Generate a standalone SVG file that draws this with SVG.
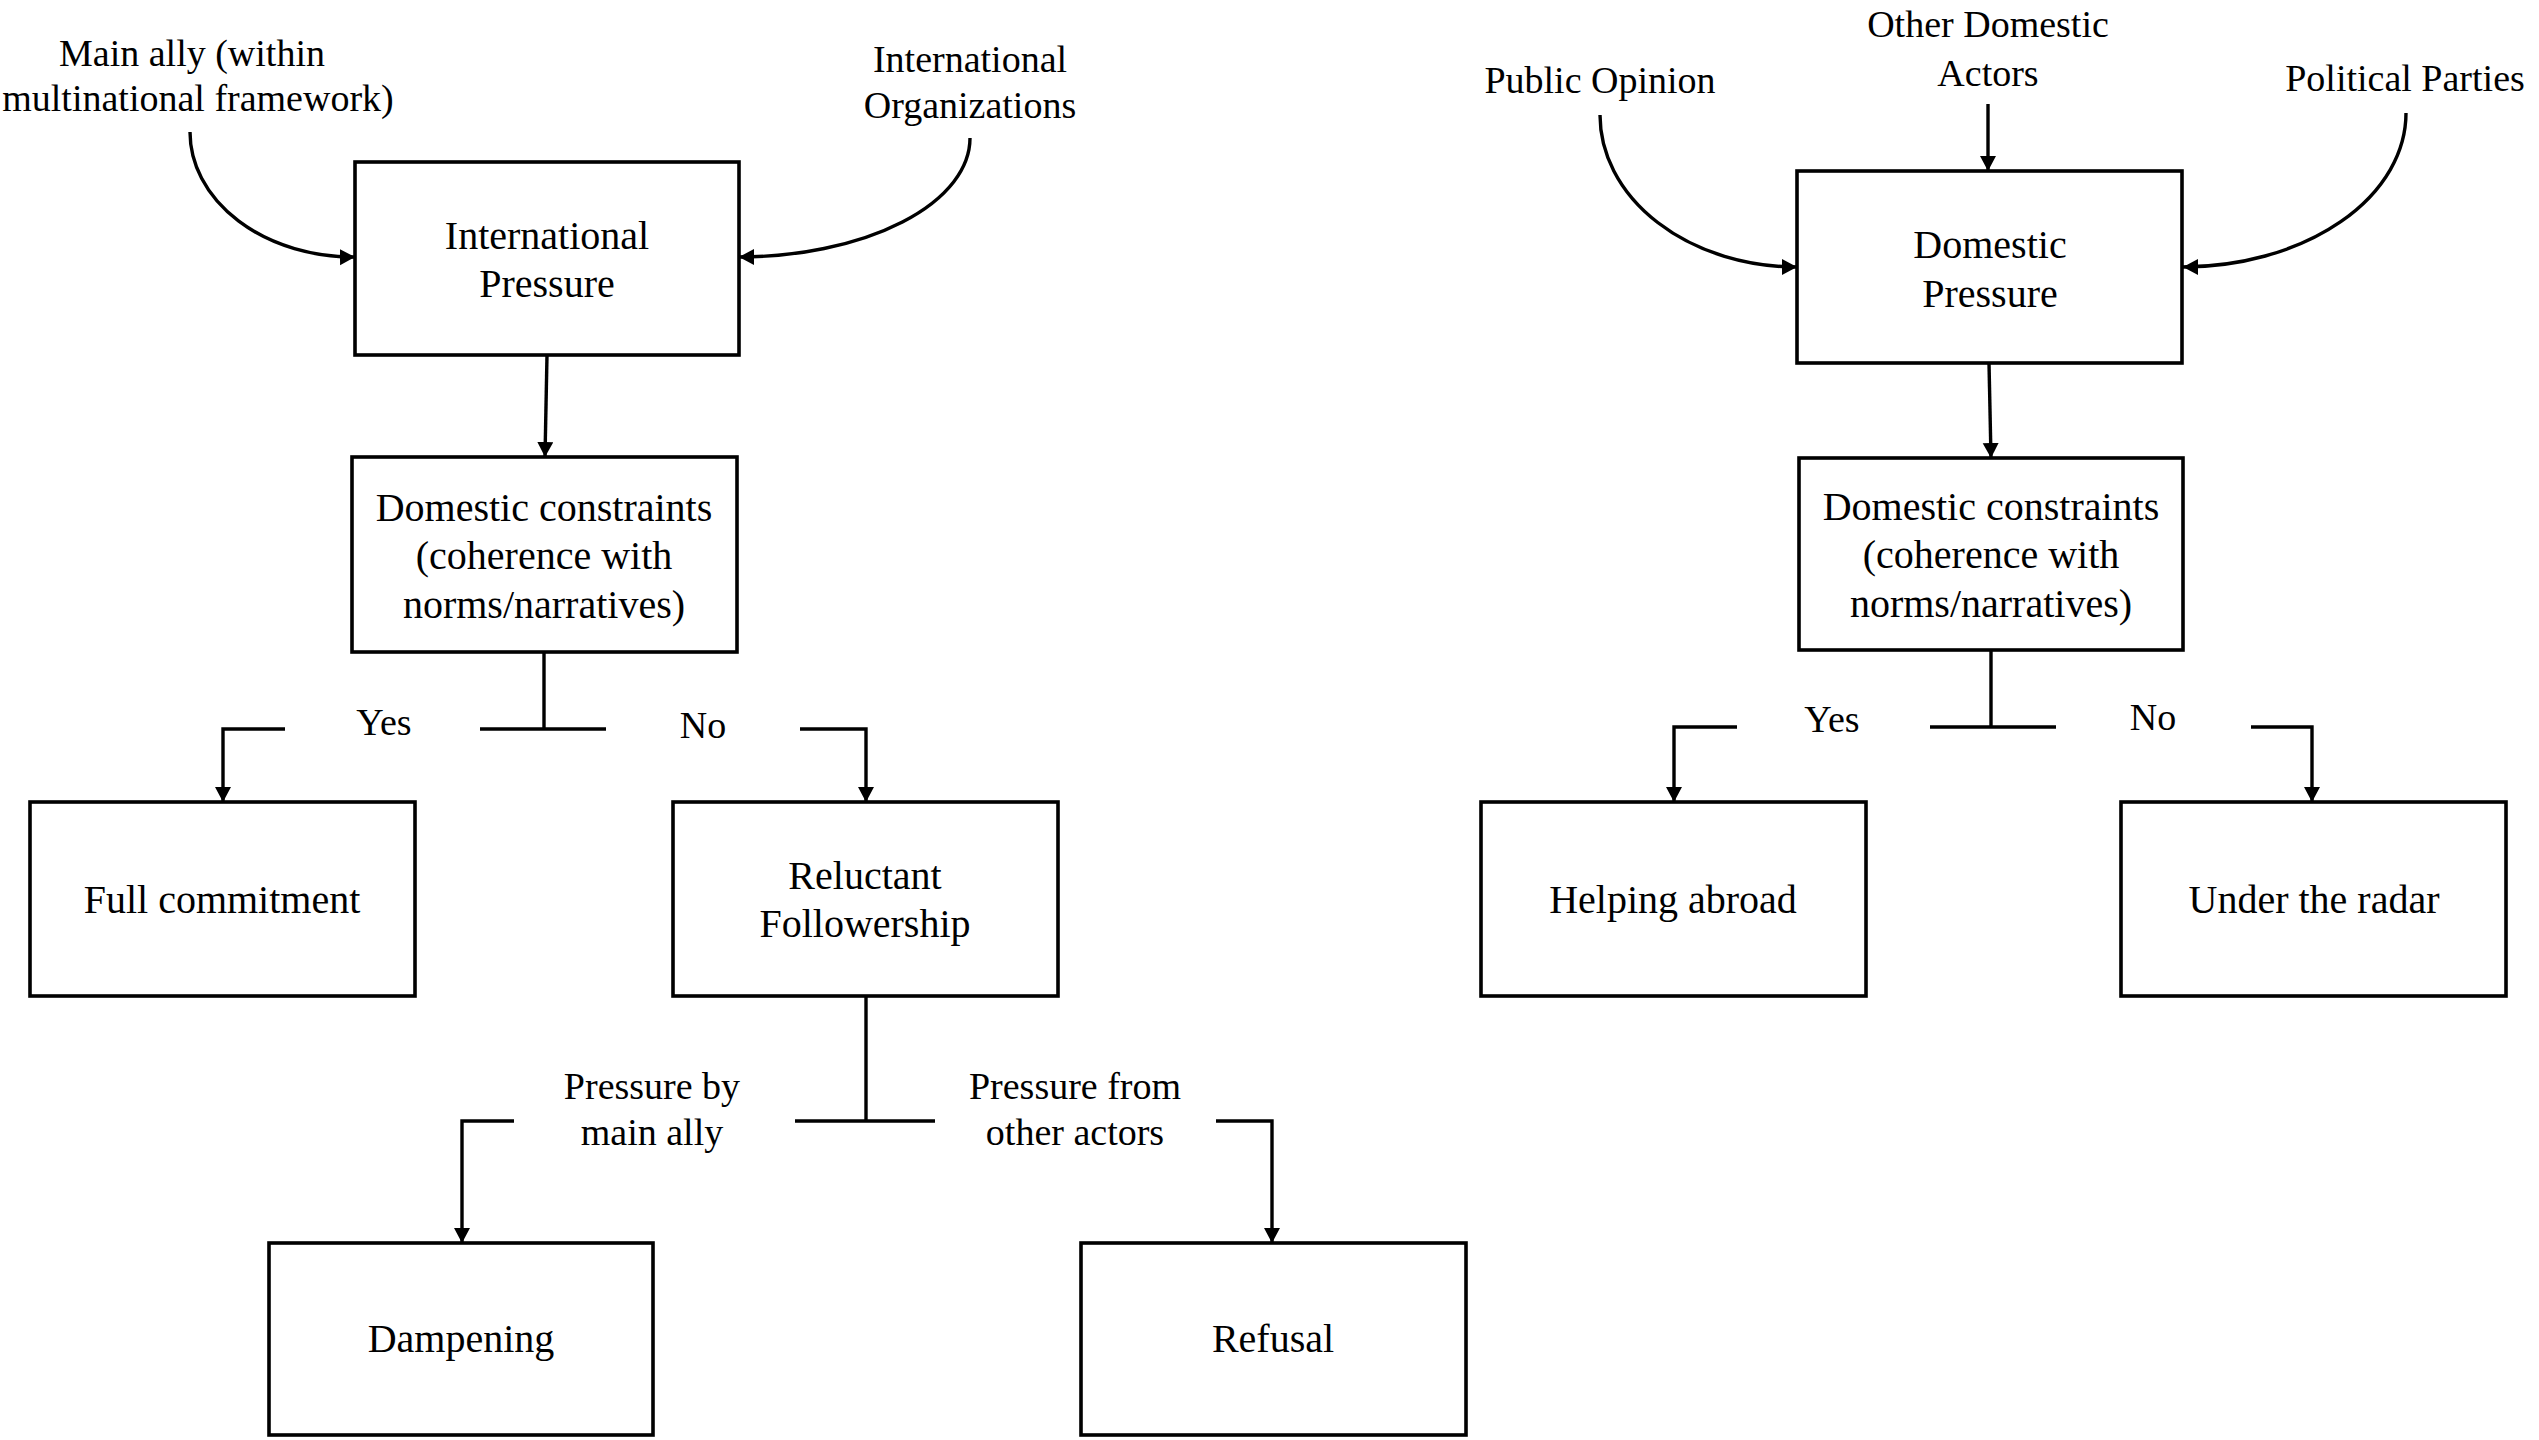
<svg xmlns="http://www.w3.org/2000/svg" width="2539" height="1440" viewBox="0 0 2539 1440" font-family="'Liberation Serif','Times New Roman',serif">
<style>
.box{fill:#fff;stroke:#000;stroke-width:3.6}
.ln{fill:none;stroke:#000;stroke-width:3.4}
.arr{marker-end:url(#ah)}
text{font-family:"Liberation Serif","Times New Roman",serif;fill:#000;text-anchor:middle}
.bt{font-size:40px}
.lb{font-size:38px}
</style>
<defs>
<marker id="ah" markerUnits="userSpaceOnUse" markerWidth="17" markerHeight="17" refX="15" refY="8" orient="auto">
<path d="M0,0 L15,8 L0,16 z" fill="#000"/>
</marker>
</defs>
<rect width="2539" height="1440" fill="#fff"/>

<g id="connectors">
<path class="ln arr" d="M190,132 A163,125 0 0 0 355,257"/>
<path class="ln arr" d="M970,138 A232,119 0 0 1 739,257"/>
<path class="ln arr" d="M547,355 L545,457"/>
<path class="ln" d="M544,652 L544,729 M480,729 L606,729"/>
<path class="ln arr" d="M285,729 L223,729 L223,802"/>
<path class="ln arr" d="M800,729 L866,729 L866,802"/>
<path class="ln" d="M866,996 L866,1121 M795,1121 L935,1121"/>
<path class="ln arr" d="M514,1121 L462,1121 L462,1243"/>
<path class="ln arr" d="M1216,1121 L1272,1121 L1272,1243"/>

<path class="ln arr" d="M1600,115 A197,152 0 0 0 1797,267"/>
<path class="ln arr" d="M1988,104 L1988,171"/>
<path class="ln arr" d="M2406,113 A224,154 0 0 1 2183,267"/>
<path class="ln arr" d="M1989,363 L1991,458"/>
<path class="ln" d="M1991,650 L1991,727 M1930,727 L2056,727"/>
<path class="ln arr" d="M1737,727 L1674,727 L1674,802"/>
<path class="ln arr" d="M2251,727 L2312,727 L2312,802"/>
</g>

<g id="labels">
<text class="lb" x="192" y="66">Main ally (within</text>
<text class="lb" x="198" y="111">multinational framework)</text>
<text class="lb" x="970" y="72">International</text>
<text class="lb" x="970" y="118">Organizations</text>
<text class="lb" x="384" y="735">Yes</text>
<text class="lb" x="703" y="738">No</text>
<text class="lb" x="652" y="1099">Pressure by</text>
<text class="lb" x="652" y="1145">main ally</text>
<text class="lb" x="1075" y="1099">Pressure from</text>
<text class="lb" x="1075" y="1145">other actors</text>
<text class="lb" x="1600" y="93">Public Opinion</text>
<text class="lb" x="1988" y="37">Other Domestic</text>
<text class="lb" x="1988" y="86">Actors</text>
<text class="lb" x="2405" y="91">Political Parties</text>
<text class="lb" x="1832" y="732">Yes</text>
<text class="lb" x="2153" y="730">No</text>
</g>

<g id="international-pressure">
<rect class="box" x="355" y="162" width="384" height="193"/>
<text class="bt" x="547" y="249">International</text>
<text class="bt" x="547" y="297">Pressure</text>
</g>
<g id="domestic-constraints-left">
<rect class="box" x="352" y="457" width="385" height="195"/>
<text class="bt" x="544" y="521">Domestic constraints</text>
<text class="bt" x="544" y="569">(coherence with</text>
<text class="bt" x="544" y="618">norms/narratives)</text>
</g>
<g id="full-commitment">
<rect class="box" x="30" y="802" width="385" height="194"/>
<text class="bt" x="222" y="913">Full commitment</text>
</g>
<g id="reluctant-followership">
<rect class="box" x="673" y="802" width="385" height="194"/>
<text class="bt" x="865" y="889">Reluctant</text>
<text class="bt" x="865" y="937">Followership</text>
</g>
<g id="dampening">
<rect class="box" x="269" y="1243" width="384" height="192"/>
<text class="bt" x="461" y="1352">Dampening</text>
</g>
<g id="refusal">
<rect class="box" x="1081" y="1243" width="385" height="192"/>
<text class="bt" x="1273" y="1352">Refusal</text>
</g>

<g id="domestic-pressure">
<rect class="box" x="1797" y="171" width="385" height="192"/>
<text class="bt" x="1990" y="258">Domestic</text>
<text class="bt" x="1990" y="307">Pressure</text>
</g>
<g id="domestic-constraints-right">
<rect class="box" x="1799" y="458" width="384" height="192"/>
<text class="bt" x="1991" y="520">Domestic constraints</text>
<text class="bt" x="1991" y="568">(coherence with</text>
<text class="bt" x="1991" y="617">norms/narratives)</text>
</g>
<g id="helping-abroad">
<rect class="box" x="1481" y="802" width="385" height="194"/>
<text class="bt" x="1673" y="913">Helping abroad</text>
</g>
<g id="under-the-radar">
<rect class="box" x="2121" y="802" width="385" height="194"/>
<text class="bt" x="2314" y="913">Under the radar</text>
</g>
</svg>
